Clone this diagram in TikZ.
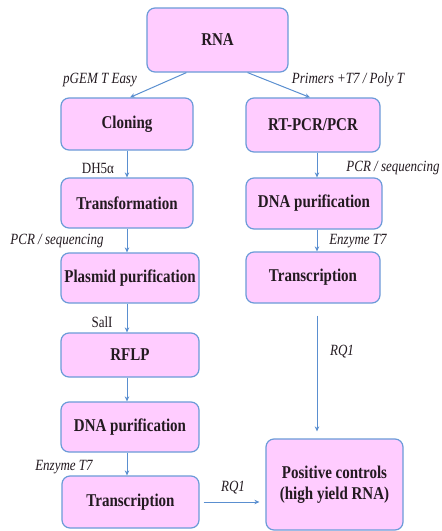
\documentclass[tikz,border=0pt]{standalone}
\usepackage{fontspec}
\setmainfont{Liberation Serif}
\usetikzlibrary{arrows.meta,positioning}
\definecolor{rcFill}{HTML}{FFCCFF}
\definecolor{rcEdge}{HTML}{6B9BD8}
\definecolor{rcArrow}{HTML}{5A8FD0}
\definecolor{rcInk}{HTML}{231A20}
\newcommand\rcTall[1]{\scalebox{1}[1.2]{#1}}
\tikzset{
  rc box/.style={
    draw=rcEdge, fill=rcFill,
    line width=1.2pt,
    rounded corners=8pt,
    inner sep=0pt,
    align=center,
    text=rcInk,
    font=\fontsize{15}{17.5}\selectfont\bfseries
  },
  rc flow/.style={
    draw=rcArrow,
    line width=1pt,
    -{Stealth[length=5pt,width=4.5pt]}
  },
  rc note/.style={font=\fontsize{13}{15}\selectfont\itshape, text=rcInk},
  rc tag/.style={font=\fontsize{13}{15}\selectfont, text=rcInk}
}

\begin{document}
\begin{tikzpicture}[x=1pt,y=-1pt]
  \useasboundingbox[fill=white] (0,0) rectangle (442,531);

  % top and the two branches
  \node[rc box, minimum width=141pt, minimum height=64pt] (rna) at (217.5,40) {\rcTall{RNA}};
  \node[rc box, minimum width=132pt, minimum height=52pt] (cloning) at (127,124) {\rcTall{Cloning}};
  \node[rc box, minimum width=134pt, minimum height=54pt] (rtpcr) at (313,125) {\rcTall{RT-PCR/PCR}};

  % left column
  \node[rc box, minimum width=132pt, minimum height=50pt] (transform) at (127,203) {\rcTall{Transformation}};
  \node[rc box, minimum width=138pt, minimum height=50pt] (plasmid) at (130,278) {\rcTall{Plasmid purification}};
  \node[rc box, minimum width=138pt, minimum height=44pt] (rflp) at (130,355) {\rcTall{RFLP}};
  \node[rc box, minimum width=138pt, minimum height=50pt] (dnaL) at (130,427) {\rcTall{DNA purification}};
  \node[rc box, minimum width=137pt, minimum height=52pt] (transL) at (130.5,502) {\rcTall{Transcription}};

  % right column
  \node[rc box, minimum width=136pt, minimum height=51pt] (dnaR) at (314,203.5) {\rcTall{DNA purification}};
  \node[rc box, minimum width=134pt, minimum height=51pt] (transR) at (313,277.5) {\rcTall{Transcription}};
  \node[rc box, minimum width=137pt, minimum height=91pt] (positive) at (334.5,484.5)
    {\rcTall{\begin{tabular}{@{}c@{}}Positive controls\\(high yield RNA)\end{tabular}}};

  % connectors
  \draw[rc flow] ([xshift=40pt]rna.south west) -- ([xshift=3pt]cloning.north);
  \draw[rc flow] ([xshift=-41pt]rna.south east) -- ([xshift=-3pt]rtpcr.north);

  \draw[rc flow] (cloning.south) -- (cloning.south |- transform.north);
  \draw[rc flow] (transform.south) -- (transform.south |- plasmid.north);
  \draw[rc flow] ([xshift=-3pt]plasmid.south) -- ([xshift=-3pt]plasmid.south |- rflp.north);
  \draw[rc flow] ([xshift=-3pt]rflp.south) -- ([xshift=-3pt]rflp.south |- dnaL.north);
  \draw[rc flow] ([xshift=-3pt]dnaL.south) -- ([xshift=-3pt]dnaL.south |- transL.north);

  \draw[rc flow] ([xshift=4pt]rtpcr.south) -- ([xshift=4pt]rtpcr.south |- dnaR.north);
  \draw[rc flow] ([xshift=3pt]dnaR.south) -- ([xshift=3pt]dnaR.south |- transR.north);
  \draw[rc flow, shorten <=12pt, shorten >=7pt] ([xshift=4pt]transR.south) -- ([xshift=4pt]transR.south |- positive.north);
  \draw[rc flow, shorten <=4pt, shorten >=6pt] (transL.east) -- (positive.west |- transL.east);

  % labels
  \node[rc note] (lbEasy) at (100,80) {\rcTall{pGEM T Easy}};
  \node[rc note] (lbPrimers) at (348,80) {\rcTall{Primers +T7 / Poly T}};
  \node[rc tag] (lbDH) at (98,168) {\rcTall{DH5α}};
  \node[rc note] (lbSeqR) at (393,168) {\rcTall{PCR / sequencing}};
  \node[rc note] (lbSeqL) at (57,241) {\rcTall{PCR / sequencing}};
  \node[rc note] (lbEnzR) at (358,241) {\rcTall{Enzyme T7}};
  \node[rc tag] (lbSal) at (102,322) {\rcTall{SalI}};
  \node[rc note] (lbRqR) at (342,352) {\rcTall{RQ1}};
  \node[rc note] (lbEnzL) at (64,467) {\rcTall{Enzyme T7}};
  \node[rc note] (lbRqL) at (233,488) {\rcTall{RQ1}};
\end{tikzpicture}
\end{document}
